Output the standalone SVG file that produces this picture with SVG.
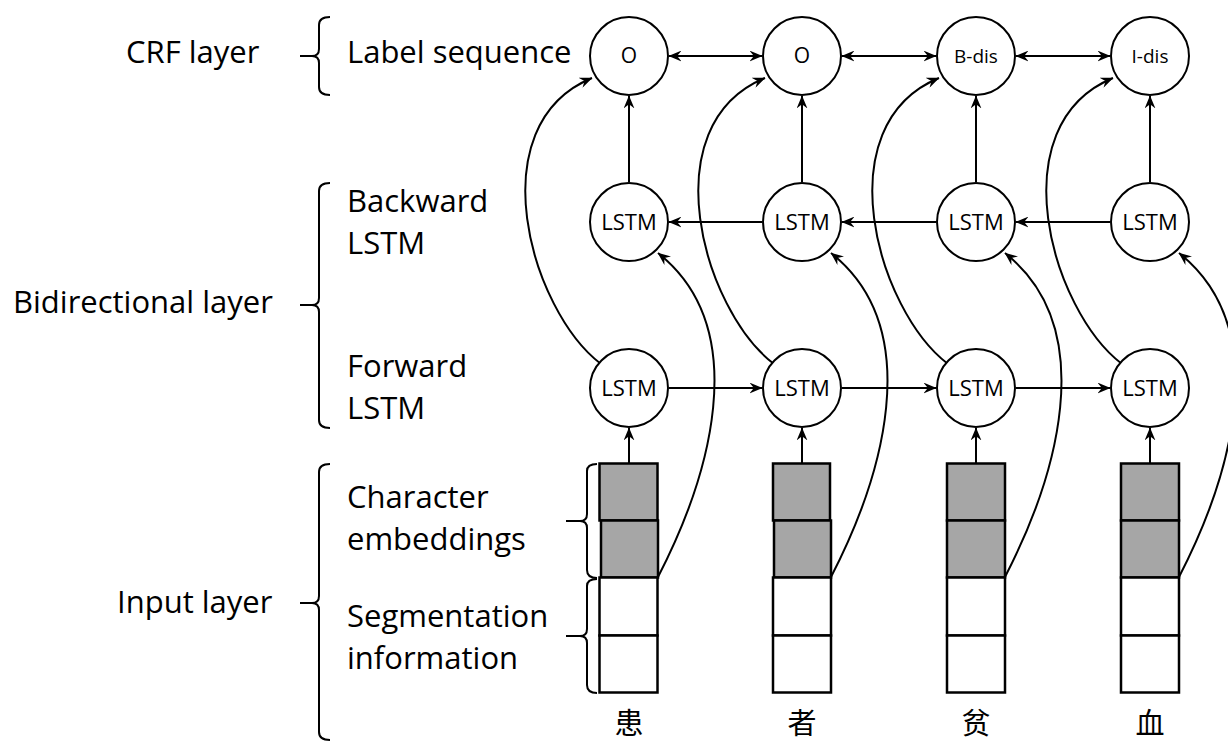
<svg xmlns="http://www.w3.org/2000/svg" width="1228" height="742" viewBox="0 0 1228 742">
<style>
.lbl{font-family:"Open Sans","Noto Sans",sans-serif;font-size:31px;fill:#000}
.nd{fill:#fff;stroke:#000;stroke-width:2}
.nt{font-family:"Open Sans","Noto Sans",sans-serif;fill:#000;text-anchor:middle}
.ln{fill:none;stroke:#000;stroke-width:2}
.br{fill:none;stroke:#000;stroke-width:2}
.gb{fill:#a6a6a6;stroke:#000;stroke-width:2.5}
.wb{fill:#fff;stroke:#000;stroke-width:2.5}
.cj{font-family:"Noto Sans CJK SC",sans-serif;font-size:29px;fill:#000;text-anchor:middle}
</style>
<defs>
<marker id="ah" viewBox="0 0 12 10" refX="11.5" refY="5" markerWidth="13" markerHeight="11" markerUnits="userSpaceOnUse" orient="auto-start-reverse">
<path d="M0,0 L12,5 L0,10 L4,5 z" fill="#000"/>
</marker>
</defs>

<g id="labels">
<text class="lbl" x="126" y="63">CRF layer</text>
<text class="lbl" x="347" y="63">Label sequence</text>
<text class="lbl" x="347" y="212">Backward</text>
<text class="lbl" x="347" y="254">LSTM</text>
<text class="lbl" x="13" y="313">Bidirectional layer</text>
<text class="lbl" x="347" y="377">Forward</text>
<text class="lbl" x="347" y="419">LSTM</text>
<text class="lbl" x="117" y="613">Input layer</text>
<text class="lbl" x="347" y="508">Character</text>
<text class="lbl" x="347" y="550">embeddings</text>
<text class="lbl" x="347" y="627">Segmentation</text>
<text class="lbl" x="347" y="669">information</text>
</g>

<g id="brackets">
<path class="br" d="M330,17 Q319,17 319,25 L319,49 Q319,56 312,56 Q319,56 319,63 L319,87 Q319,95 330,95 M300,56 L312,56"/>
<path class="br" d="M330,183 Q319,183 319,191 L319,298 Q319,305 312,305 Q319,305 319,312 L319,420 Q319,428 330,428 M300,305 L312,305"/>
<path class="br" d="M330,464 Q319,464 319,472 L319,596 Q319,603 312,603 Q319,603 319,610 L319,732 Q319,740 330,740 M300,603 L312,603"/>
<path class="br" d="M597,464 Q587,464 587,471 L587,514 Q587,521 580,521 Q587,521 587,528 L587,570 Q587,578 597,578 M566,521 L580,521"/>
<path class="br" d="M597,579 Q587,579 587,586 L587,629 Q587,636 580,636 Q587,636 587,643 L587,685 Q587,693 597,693 M566,636 L580,636"/>
</g>

<g id="connectors">
<line class="ln" x1="669" y1="56" x2="762" y2="56" marker-start="url(#ah)" marker-end="url(#ah)"/>
<line class="ln" x1="842" y1="56" x2="936" y2="56" marker-start="url(#ah)" marker-end="url(#ah)"/>
<line class="ln" x1="1016" y1="56" x2="1110" y2="56" marker-start="url(#ah)" marker-end="url(#ah)"/>
<line class="ln" x1="629" y1="182" x2="629" y2="96" marker-end="url(#ah)"/>
<line class="ln" x1="802" y1="182" x2="802" y2="96" marker-end="url(#ah)"/>
<line class="ln" x1="976" y1="182" x2="976" y2="96" marker-end="url(#ah)"/>
<line class="ln" x1="1150" y1="182" x2="1150" y2="96" marker-end="url(#ah)"/>
<line class="ln" x1="762" y1="222" x2="669" y2="222" marker-end="url(#ah)"/>
<line class="ln" x1="936" y1="222" x2="842" y2="222" marker-end="url(#ah)"/>
<line class="ln" x1="1110" y1="222" x2="1016" y2="222" marker-end="url(#ah)"/>
<line class="ln" x1="669" y1="388" x2="762" y2="388" marker-end="url(#ah)"/>
<line class="ln" x1="842" y1="388" x2="936" y2="388" marker-end="url(#ah)"/>
<line class="ln" x1="1016" y1="388" x2="1110" y2="388" marker-end="url(#ah)"/>
<line class="ln" x1="629" y1="463" x2="629" y2="428" marker-end="url(#ah)"/>
<line class="ln" x1="802" y1="463" x2="802" y2="428" marker-end="url(#ah)"/>
<line class="ln" x1="976" y1="463" x2="976" y2="428" marker-end="url(#ah)"/>
<line class="ln" x1="1150" y1="463" x2="1150" y2="428" marker-end="url(#ah)"/>
<path class="ln" d="M601,364 C530,310 478,125 592,78" marker-end="url(#ah)"/>
<path class="ln" d="M774,364 C703,310 651,125 765,78" marker-end="url(#ah)"/>
<path class="ln" d="M948,364 C877,310 825,125 939,78" marker-end="url(#ah)"/>
<path class="ln" d="M1122,364 C1051,310 999,125 1113,78" marker-end="url(#ah)"/>
<path class="ln" d="M658,577 C708,480 755,330 658,253" marker-end="url(#ah)"/>
<path class="ln" d="M831,577 C881,480 928,330 831,253" marker-end="url(#ah)"/>
<path class="ln" d="M1005,577 C1055,480 1102,330 1005,253" marker-end="url(#ah)"/>
<path class="ln" d="M1179,577 C1229,480 1276,330 1179,253" marker-end="url(#ah)"/>
</g>

<g id="label-nodes">
<g id="lab1"><circle class="nd" cx="629" cy="56" r="39"/><text class="nt" x="629" y="63" font-size="21">O</text></g>
<g id="lab2"><circle class="nd" cx="802" cy="56" r="39"/><text class="nt" x="802" y="63" font-size="21">O</text></g>
<g id="lab3"><circle class="nd" cx="976" cy="56" r="39"/><text class="nt" x="976" y="63" font-size="19">B-dis</text></g>
<g id="lab4"><circle class="nd" cx="1150" cy="56" r="39"/><text class="nt" x="1150" y="63" font-size="19">I-dis</text></g>
</g>

<g id="backward-nodes">
<g id="bw1"><circle class="nd" cx="629" cy="222" r="39"/><text class="nt" x="629" y="230" font-size="22">LSTM</text></g>
<g id="bw2"><circle class="nd" cx="802" cy="222" r="39"/><text class="nt" x="802" y="230" font-size="22">LSTM</text></g>
<g id="bw3"><circle class="nd" cx="976" cy="222" r="39"/><text class="nt" x="976" y="230" font-size="22">LSTM</text></g>
<g id="bw4"><circle class="nd" cx="1150" cy="222" r="39"/><text class="nt" x="1150" y="230" font-size="22">LSTM</text></g>
</g>

<g id="forward-nodes">
<g id="fw1"><circle class="nd" cx="629" cy="388" r="39"/><text class="nt" x="629" y="396" font-size="22">LSTM</text></g>
<g id="fw2"><circle class="nd" cx="802" cy="388" r="39"/><text class="nt" x="802" y="396" font-size="22">LSTM</text></g>
<g id="fw3"><circle class="nd" cx="976" cy="388" r="39"/><text class="nt" x="976" y="396" font-size="22">LSTM</text></g>
<g id="fw4"><circle class="nd" cx="1150" cy="388" r="39"/><text class="nt" x="1150" y="396" font-size="22">LSTM</text></g>
</g>

<g id="input-nodes">
<g id="in1">
<rect class="gb" x="599.5" y="463.5" width="58" height="57"/>
<rect class="gb" x="601" y="520.5" width="57" height="57"/>
<rect class="wb" x="599.5" y="577.5" width="58" height="58"/>
<rect class="wb" x="599.5" y="635.5" width="58" height="57"/>
<text class="cj" x="629" y="734">患</text>
</g>
<g id="in2">
<rect class="gb" x="773" y="463.5" width="57" height="57"/>
<rect class="gb" x="774" y="520.5" width="57" height="57"/>
<rect class="wb" x="773" y="577.5" width="58" height="58"/>
<rect class="wb" x="773" y="635.5" width="58" height="57"/>
<text class="cj" x="802" y="734">者</text>
</g>
<g id="in3">
<rect class="gb" x="947" y="463.5" width="58" height="57"/>
<rect class="gb" x="947" y="520.5" width="58" height="57"/>
<rect class="wb" x="947" y="577.5" width="58" height="58"/>
<rect class="wb" x="947" y="635.5" width="58" height="57"/>
<text class="cj" x="976" y="734">贫</text>
</g>
<g id="in4">
<rect class="gb" x="1121" y="463.5" width="58" height="57"/>
<rect class="gb" x="1121" y="520.5" width="58" height="57"/>
<rect class="wb" x="1121" y="577.5" width="58" height="58"/>
<rect class="wb" x="1121" y="635.5" width="58" height="57"/>
<text class="cj" x="1150" y="734">血</text>
</g>
</g>
</svg>
